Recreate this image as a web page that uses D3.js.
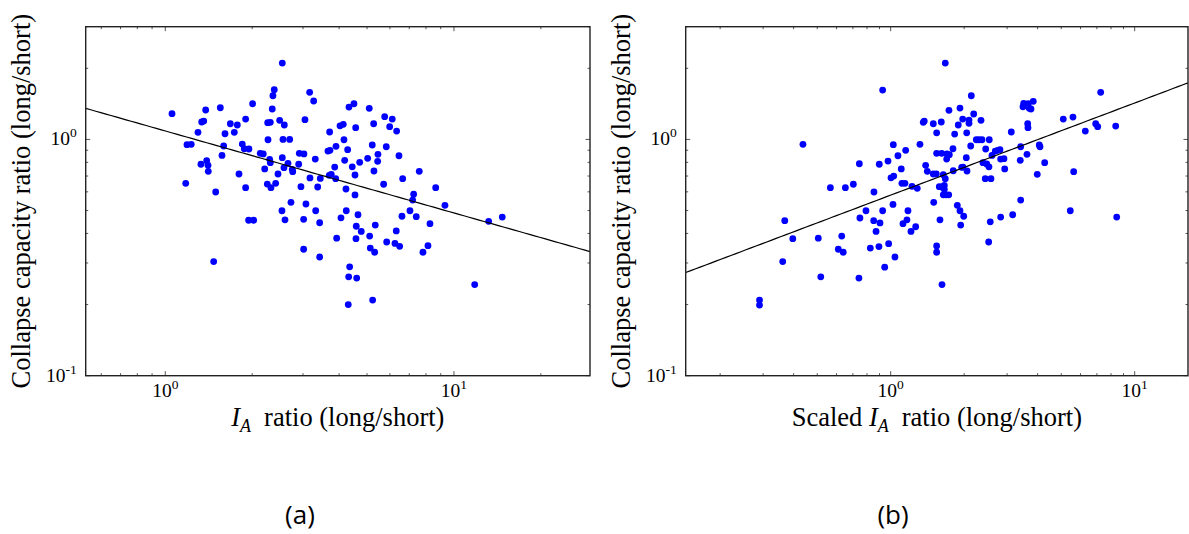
<!DOCTYPE html>
<html><head><meta charset="utf-8">
<script src="https://cdn.jsdelivr.net/npm/d3@7/dist/d3.min.js"></script>
<style>body{margin:0;background:#fff}svg{display:block}</style>
</head><body>
<svg id="c" width="1189" height="534"></svg>
<script>
// ---------- data ----------
// panel (a): [I_A ratio, collapse capacity ratio]
const pointsA = [
[1.055,1.285],[1.380,1.332],[1.551,1.362],[1.337,1.185],[1.359,1.196],[1.298,1.072],[1.189,0.950],[1.230,0.953],
[1.610,1.057],[1.680,1.165],[1.776,1.151],[1.734,1.072],[1.898,1.220],[2.007,1.416],[1.593,0.938],[1.572,0.856],
[1.329,0.785],[1.391,0.813],[1.406,0.777],[1.409,0.733],[1.177,0.652],[1.495,0.599],[1.471,0.304],[1.848,0.956],
[1.877,0.913],[1.949,0.911],[1.800,0.714],[1.898,0.625],[1.944,0.455],[2.023,0.455],
[2.543,2.105],[2.385,1.623],[2.360,1.531],[2.347,1.345],[2.263,1.177],[2.311,1.181],[2.490,1.205],[2.584,1.151],
[2.269,0.997],[2.557,1.000],[2.697,1.000],[2.133,0.873],[2.185,0.868],[2.299,0.824],[2.311,0.797],[2.543,0.837],
[2.661,0.792],[2.210,0.750],[2.577,0.759],[2.754,0.747],[2.763,0.730],[2.457,0.714],[2.256,0.647],[2.323,0.625],
[2.412,0.652],[2.898,0.785],[2.951,0.631],[2.725,0.542],[2.536,0.499],[2.598,0.457],
[3.015,0.459],[3.071,0.533],[3.319,0.499],[3.426,0.444],[3.015,0.343],[3.426,0.318],[3.924,0.382],[3.163,1.582],
[3.266,1.454],[3.047,1.212],[2.912,0.873],[3.022,0.868],[3.308,0.826],[3.171,0.687],[3.372,0.629],[3.443,0.684],
[3.710,1.075],[3.660,0.893],[3.720,0.899],[3.903,0.935],[3.862,0.764],[3.698,0.705],[3.758,0.712],[3.893,0.682],
[4.030,1.142],
[4.328,1.371],[4.504,1.416],[4.136,1.159],[4.566,1.121],[4.159,0.997],[4.283,0.905],[4.182,0.816],[4.443,0.766],
[4.541,0.707],[4.714,0.800],[5.024,0.832],[4.226,0.617],[4.541,0.582],[4.236,0.499],[4.061,0.466],[4.651,0.480],
[4.588,0.429],[4.774,0.408],[4.577,0.380],[5.105,0.390],[5.338,0.434],[5.129,0.347],[5.312,0.333],[4.352,0.289],
[4.318,0.262],[4.603,0.259],[4.304,0.200],[5.228,0.209],
[5.088,1.354],[5.270,1.165],[5.212,0.947],[5.454,0.865],[5.441,0.808],[5.283,0.735],[5.754,1.248],[6.113,1.220],
[5.988,1.132],[6.331,1.085],[5.828,0.931],[6.449,0.853],[5.707,0.646],[6.642,0.682],[6.605,0.473],[7.040,0.499],
[7.403,0.471],[7.251,0.586],[7.193,0.554],[7.583,0.733],[8.645,0.625],[9.307,0.526],[8.259,0.440],[6.311,0.410],
[5.847,0.368],[6.246,0.363],[6.485,0.353],[8.127,0.355],[7.809,0.333],[13.19,0.450],[14.70,0.469],[11.80,0.243]
];
// panel (b): [scaled I_A ratio, collapse capacity ratio]
const pointsB = [
[0.927,1.618],[0.437,0.953],[0.290,0.209],[0.290,0.199],[0.368,0.453],[0.397,0.380],[0.361,0.304],[0.517,0.262],
[0.505,0.382],[0.566,0.625],[0.652,0.625],[0.703,0.646],[0.630,0.390],[0.610,0.343],[0.639,0.333],[0.741,0.259],
[0.744,0.789],[0.748,0.465],[0.792,0.499],[0.852,0.453],[0.904,0.443],[0.871,0.408],[0.825,0.347],[0.895,0.352],
[0.981,0.362],[0.945,0.288],[1.041,0.318],[0.854,0.599],[0.927,0.499],[1.022,0.531],[0.898,0.785],[0.975,0.810],
[1.025,0.950],[1.071,0.853],[1.152,0.899],[1.003,0.688],[1.029,0.700],[1.105,0.750],[1.112,0.652],[1.144,0.652],
[1.223,0.633],[1.177,0.499],[1.166,0.457],[1.123,0.440],[1.211,0.408],[1.266,0.427],[1.285,0.621],[1.318,0.953],
[1.674,2.105],[2.140,1.531],[1.733,1.328],[1.923,1.358],[2.189,1.281],[1.360,1.181],[1.373,1.196],[1.495,1.165],
[1.612,1.185],[1.973,1.220],[2.094,1.208],[2.094,1.170],[2.345,1.205],[1.892,1.151],[1.543,1.067],[1.829,1.054],
[2.049,1.067],[1.543,0.873],[1.618,0.873],[1.701,0.868],[1.739,0.862],[1.696,0.826],[1.800,0.913],[2.128,0.938],
[2.041,0.837],[2.243,0.997],[2.301,0.997],[2.367,0.997],[2.535,0.997],[2.451,0.911],[2.601,0.856],[2.683,0.893],
[2.745,0.899],[2.805,0.905],[2.823,0.826],[2.913,0.829],[2.389,0.797],[2.474,0.787],[2.528,0.766],[2.933,0.750],
[3.121,1.075],[3.410,0.931],[3.397,0.816],[3.619,0.865],[3.485,1.375],[3.508,1.421],[3.663,1.416],[3.698,1.354],
[3.758,1.345],[3.840,1.449],[3.643,1.165],[3.653,1.121],[4.064,0.947],[4.092,0.931],[4.277,0.797],[3.988,0.712],
[3.410,0.554],[5.098,1.220],[5.586,1.244],[6.275,1.085],[6.921,1.165],[7.053,1.132],[7.255,1.582],[8.360,1.139],
[5.623,0.730],[5.446,0.499],[8.440,0.469],[1.391,0.777],[1.413,0.733],[1.495,0.714],[1.538,0.714],[1.643,0.709],
[1.805,0.737],[1.954,0.762],[1.978,0.764],[2.055,0.735],[1.674,0.682],[1.582,0.631],[1.618,0.629],[1.659,0.639],
[1.659,0.615],[1.643,0.583],[1.685,0.583],[1.729,0.583],[1.501,0.542],[1.875,0.526],[1.923,0.499],[1.992,0.473],
[1.936,0.434],[1.592,0.457],[1.543,0.354],[1.543,0.333],[1.623,0.243],[2.559,0.448],[2.823,0.469],[3.162,0.480],
[2.521,0.368],[2.441,0.682],[2.576,0.682]
];
// power-law fits: y = a * x^b
const fitA = [1.086, -0.347];
const fitB = [0.581, 0.390];
// axis limits
const yDomain = [0.1, 3];
const xDomainA = [0.53, 29.6];
const xDomainB = [0.1445, 16.54];
// decade tick labels: [base, exponent]
const decadeValues = [0.1, 1, 10];
const decadeLabels = [["10","-1"],["10","0"],["10","1"]];
const yTitle = "Collapse capacity ratio (long/short)";
const xTitlePrefix = ["", "Scaled "];
const panelLabels = ["(a)", "(b)"];

// ---------- drawing ----------
const svg = d3.select("#c");
const serif = "'Liberation Serif','Times New Roman',serif";
const plotTop = 26.7, plotBottom = 375.7;

function allLogTicks(dom){
  const out=[];
  for(let k=-3;k<=3;k++) for(let m=1;m<=9;m++){
    const v=+(m*Math.pow(10,k)).toPrecision(6);
    if(v>=dom[0]*0.9999 && v<=dom[1]*1.0001) out.push({v, major:m===1});
  }
  return out;
}

function panel(cfg, idx){
  const g = svg.append("g");
  const x = d3.scaleLog().domain(cfg.xDomain).range([cfg.left, cfg.right]);
  const y = d3.scaleLog().domain(yDomain).range([plotBottom, plotTop]);
  const clipId = "clip"+idx;
  svg.append("clipPath").attr("id",clipId).append("rect")
    .attr("x",cfg.left).attr("y",plotTop).attr("width",cfg.right-cfg.left).attr("height",plotBottom-plotTop);

  // points
  g.append("g").selectAll("circle").data(cfg.points).join("circle")
    .attr("cx",d=>x(d[0])).attr("cy",d=>y(d[1])).attr("r",3.4).attr("fill","#0000ff");

  // fit line
  const xs = d3.range(0,101).map(i=>cfg.xDomain[0]*Math.pow(cfg.xDomain[1]/cfg.xDomain[0], i/100));
  g.append("path").attr("clip-path",`url(#${clipId})`)
    .attr("d", d3.line().x(d=>x(d)).y(d=>y(cfg.fit[0]*Math.pow(d,cfg.fit[1])))(xs))
    .attr("fill","none").attr("stroke","#000").attr("stroke-width",1.2);

  // ticks (inward, all four sides)
  const tk = g.append("g").attr("stroke","#555").attr("stroke-width",1);
  allLogTicks(cfg.xDomain).forEach(t=>{
    const L = t.major?4.5:2.5, px=x(t.v);
    tk.append("line").attr("x1",px).attr("x2",px).attr("y1",plotBottom).attr("y2",plotBottom-L);
    tk.append("line").attr("x1",px).attr("x2",px).attr("y1",plotTop).attr("y2",plotTop+L);
  });
  allLogTicks(yDomain).forEach(t=>{
    const L = t.major?4.5:2.5, py=y(t.v);
    tk.append("line").attr("y1",py).attr("y2",py).attr("x1",cfg.left).attr("x2",cfg.left+L);
    tk.append("line").attr("y1",py).attr("y2",py).attr("x1",cfg.right).attr("x2",cfg.right-L);
  });

  // frame
  g.append("rect").attr("x",cfg.left).attr("y",plotTop).attr("width",cfg.right-cfg.left).attr("height",plotBottom-plotTop)
    .attr("fill","none").attr("stroke","#222").attr("stroke-width",1.4);

  // tick labels
  decadeValues.forEach((v,i)=>{
    if(v>=cfg.xDomain[0] && v<=cfg.xDomain[1]){
      const t = g.append("text").attr("x",x(v)).attr("y",plotBottom+21).attr("text-anchor","middle")
        .attr("font-family",serif).attr("font-size",19.5).attr("fill","#000");
      t.append("tspan").text(decadeLabels[i][0]);
      t.append("tspan").attr("font-size",13.5).attr("dy",-8).text(decadeLabels[i][1]);
    }
    if(v>=yDomain[0] && v<=yDomain[1]){
      const t = g.append("text").attr("x",cfg.left-9).attr("y",y(v)+6).attr("text-anchor","end")
        .attr("font-family",serif).attr("font-size",19.5).attr("fill","#000");
      t.append("tspan").text(decadeLabels[i][0]);
      t.append("tspan").attr("font-size",13.5).attr("dy",-8).text(decadeLabels[i][1]);
    }
  });

  // y title
  g.append("text").attr("transform",`translate(${cfg.left-56},${(plotTop+plotBottom)/2}) rotate(-90)`)
    .attr("text-anchor","middle").attr("font-family",serif).attr("font-size",26.5).attr("fill","#000")
    .text(yTitle);

  // x title
  const xt = g.append("text").attr("x",(cfg.left+cfg.right)/2).attr("y",425.5).attr("text-anchor","middle")
    .attr("font-family",serif).attr("font-size",26.5).attr("fill","#000");
  if(cfg.prefix) xt.append("tspan").text(cfg.prefix);
  xt.append("tspan").attr("font-style","italic").text("I");
  xt.append("tspan").attr("font-style","italic").attr("font-size",18).attr("dy",6).text("A");
  xt.append("tspan").attr("dy",-6).attr("dx",13).text("ratio (long/short)");

  // panel label
  g.append("text").attr("x",cfg.labelX).attr("y",524).attr("text-anchor","middle")
    .attr("font-family","'Open Sans','Noto Sans',sans-serif").attr("font-size",26).attr("fill","#000")
    .text(cfg.label);
}

panel({xDomain:xDomainA, left:85.7, right:590, points:pointsA, fit:fitA, prefix:xTitlePrefix[0], label:panelLabels[0], labelX:300}, 0);
panel({xDomain:xDomainB, left:685.7, right:1188, points:pointsB, fit:fitB, prefix:xTitlePrefix[1], label:panelLabels[1], labelX:893}, 1);
</script>
</body></html>
